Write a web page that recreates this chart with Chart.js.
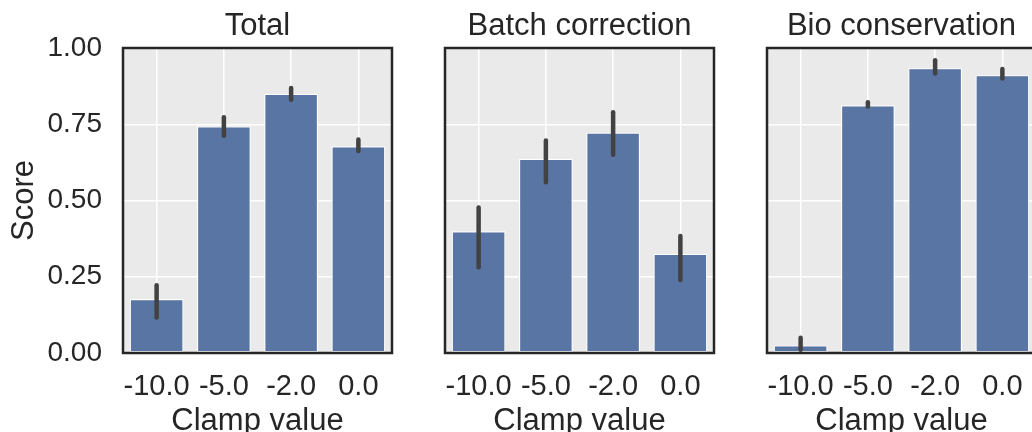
<!DOCTYPE html>
<html>
<head>
<meta charset="utf-8">
<script src="https://cdn.jsdelivr.net/npm/chart.js@4.4.1/dist/chart.umd.min.js"></script>
<style>
  html, body { margin: 0; padding: 0; background: #fff; overflow: hidden; }
  #wrap { position: relative; width: 1032px; height: 432px; overflow: hidden; }
  canvas { position: absolute; top: 0; }
</style>
</head>
<body>
<div id="wrap">
  <canvas id="c0" width="412" height="470" style="left:0px"></canvas>
  <canvas id="c1" width="412" height="470" style="left:322px"></canvas>
  <canvas id="c2" width="412" height="470" style="left:644px"></canvas>
</div>
<script>
// clamp values on the x axis
const categories = ['-10.0', '-5.0', '-2.0', '0.0'];
const yTicks = [0, 0.25, 0.5, 0.75, 1.0];

// Total
const totalMean = [0.177, 0.743, 0.850, 0.678];
const totalLow  = [0.116, 0.712, 0.830, 0.662];
const totalHigh = [0.222, 0.773, 0.869, 0.700];

// Batch correction
const batchMean = [0.399, 0.637, 0.723, 0.325];
const batchLow  = [0.281, 0.560, 0.650, 0.239];
const batchHigh = [0.477, 0.697, 0.789, 0.384];

// Bio conservation
const bioMean = [0.025, 0.812, 0.934, 0.911];
const bioLow  = [0.011, 0.808, 0.916, 0.900];
const bioHigh = [0.050, 0.822, 0.960, 0.931];

const panelTitles = ['Total', 'Batch correction', 'Bio conservation'];

Chart.defaults.font.family = '"Liberation Sans", Arial, sans-serif';
Chart.defaults.color = '#262626';

const PLOT_LEFT = 123, PLOT_TOP = 48, PLOT_BOTTOM = 353, CANVAS_H = 470;

const bgPlugin = {
    id: 'bg',
    beforeDraw(chart) {
        const a = chart.chartArea, ctx = chart.ctx;
        ctx.save();
        ctx.fillStyle = '#eaeaea';
        ctx.fillRect(a.left, a.top, a.right - a.left, a.bottom - a.top);
        ctx.restore();
    }
};

const framePlugin = {
    id: 'frame',
    afterDraw(chart) {
        const a = chart.chartArea, ctx = chart.ctx;
        ctx.save();
        ctx.strokeStyle = '#262626';
        ctx.lineWidth = 2.5;
        ctx.strokeRect(a.left, a.top, a.right - a.left, a.bottom - a.top);
        ctx.restore();
    }
};

function errorBars(low, high) {
    return {
        id: 'errbars',
        afterDatasetsDraw(chart) {
            const ctx = chart.ctx, y = chart.scales.y;
            const meta = chart.getDatasetMeta(0);
            ctx.save();
            ctx.strokeStyle = '#424242';
            ctx.lineWidth = 4.5;
            ctx.lineCap = 'round';
            meta.data.forEach((bar, i) => {
                ctx.beginPath();
                ctx.moveTo(bar.x, y.getPixelForValue(low[i]));
                ctx.lineTo(bar.x, y.getPixelForValue(high[i]));
                ctx.stroke();
            });
            ctx.restore();
        }
    };
}

function makePanel(id, title, mean, low, high, showY) {
    new Chart(document.getElementById(id), {
        type: 'bar',
        data: {
            labels: categories,
            datasets: [{
                data: mean,
                backgroundColor: '#5875a4',
                borderColor: '#ffffff',
                borderWidth: 1.2,
                borderSkipped: false,
                barPercentage: 0.8,
                categoryPercentage: 1.0
            }]
        },
        options: {
            responsive: false,
            animation: false,
            layout: { padding: { left: 0, right: 20, top: 0, bottom: 0 } },
            plugins: { legend: { display: false }, tooltip: { enabled: false } },
            scales: {
                x: {
                    type: 'category',
                    position: 'bottom',
                    offset: true,
                    grid: { color: '#ffffff', lineWidth: 1.5, offset: false, drawTicks: false },
                    border: { display: false },
                    ticks: { font: { size: 29 }, padding: 17, maxRotation: 0, autoSkip: false },
                    title: { display: true, text: 'Clamp value', font: { size: 31 }, padding: { top: 0, bottom: 30 } },
                    afterFit(scale) { scale.height = CANVAS_H - PLOT_BOTTOM; }
                },
                xTop: {
                    type: 'category',
                    position: 'top',
                    labels: categories,
                    grid: { display: false },
                    border: { display: false },
                    ticks: { display: false },
                    title: { display: true, text: title, font: { size: 31 }, padding: { top: 8, bottom: 0 } },
                    afterFit(scale) { scale.height = PLOT_TOP; }
                },
                y: {
                    min: 0,
                    max: 1,
                    afterBuildTicks(scale) { scale.ticks = yTicks.map(v => ({ value: v })); },
                    grid: { color: '#ffffff', lineWidth: 1.5, drawTicks: false },
                    border: { display: false },
                    ticks: {
                        display: showY,
                        font: { size: 28 },
                        padding: 21,
                        callback: v => Number(v).toFixed(2)
                    },
                    title: { display: showY, text: 'Score', font: { size: 31 }, padding: { top: 6, bottom: 0 } },
                    afterFit(scale) { scale.width = PLOT_LEFT; }
                }
            }
        },
        plugins: [bgPlugin, framePlugin, errorBars(low, high)]
    });
}

makePanel('c0', panelTitles[0], totalMean, totalLow, totalHigh, true);
makePanel('c1', panelTitles[1], batchMean, batchLow, batchHigh, false);
makePanel('c2', panelTitles[2], bioMean, bioLow, bioHigh, false);
</script>
</body>
</html>
